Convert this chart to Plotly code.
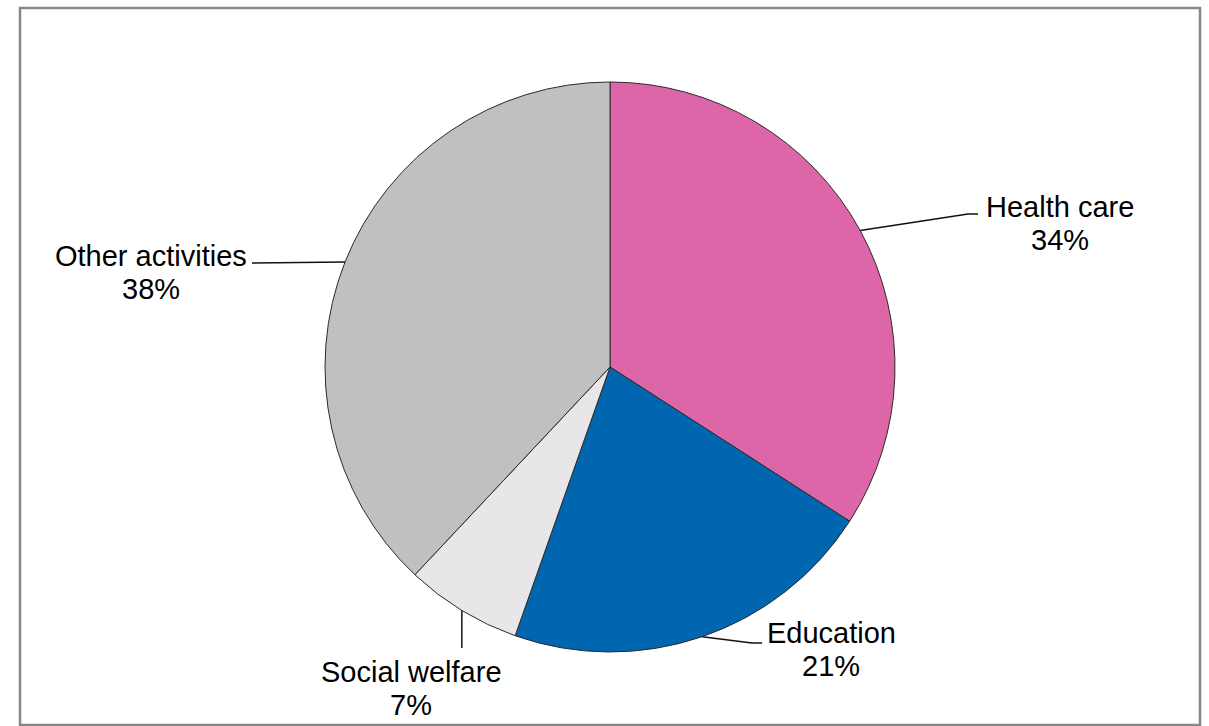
import math
import plotly.graph_objects as go

# ---- data ----
categories = ["Health care", "Education", "Social welfare", "Other activities"]
values = [34.1, 21.3, 6.6, 38.0]
colors = ["#DD66A8", "#0066B0", "#E8E6E8", "#C0C0C0"]

# ---- layout constants (pixels) ----
W, H = 1209, 726
CX, CY, R = 610, 367, 285
FONT = "Arial, 'Liberation Sans', sans-serif"
FS = 29
LINE_GAP = 33

# label centre x, first-line baseline y, leader path after the slice edge point
label_layout = {
    "Health care": dict(x=1060, base=217, path=[(968, 214), (978, 214)]),
    "Education": dict(x=831, base=643, path=[(752, 643), (762, 643)]),
    "Social welfare": dict(x=411, base=682, path=[(None, 648)]),
    "Other activities": dict(x=151, base=266, path=[(252, 263)]),
}


def px(x):
    return x / W


def py(y):
    return 1 - y / H


fig = go.Figure()
fig.add_trace(go.Pie(
    labels=categories,
    values=values,
    sort=False,
    direction="clockwise",
    rotation=0,
    marker=dict(colors=colors, line=dict(color="#2b2b2b", width=1)),
    textinfo="none",
    hoverinfo="label+percent",
    showlegend=False,
    domain=dict(x=[px(CX - R), px(CX + R)], y=[py(CY + R), py(CY - R)]),
))

annotations = []
shapes = []
total = sum(values)
cum = 0
for cat, v in zip(categories, values):
    mid = (cum + v / 2) / total * 2 * math.pi
    cum += v
    sx = CX + R * math.sin(mid)
    sy = CY - R * math.cos(mid)
    lay = label_layout[cat]
    pts = [(sx, sy)]
    for (x, y) in lay["path"]:
        pts.append((pts[-1][0] if x is None else x, y))
    for (x0, y0), (x1, y1) in zip(pts[:-1], pts[1:]):
        shapes.append(dict(type="line", xref="paper", yref="paper",
                           x0=px(x0), y0=py(y0), x1=px(x1), y1=py(y1),
                           line=dict(color="#111111", width=1.5)))
    pct = round(v / total * 100)
    for i, txt in enumerate([cat, f"{pct}%"]):
        base = lay["base"] + i * LINE_GAP
        annotations.append(dict(
            text=txt, x=px(lay["x"]), y=py(base - 0.3465 * FS),
            xref="paper", yref="paper", xanchor="center", yanchor="middle",
            showarrow=False, font=dict(family=FONT, size=FS, color="#000000"),
        ))

# outer frame
shapes.append(dict(type="rect", xref="paper", yref="paper",
                   x0=px(20), x1=px(1200), y0=py(725), y1=py(8),
                   line=dict(color="#888888", width=2.5)))

fig.update_layout(
    width=W, height=H,
    margin=dict(l=0, r=0, t=0, b=0),
    paper_bgcolor="white", plot_bgcolor="white",
    font=dict(family=FONT, size=FS, color="#000000"),
    annotations=annotations,
    shapes=shapes,
)

fig.write_html(
    "out.html",
    config={"displayModeBar": False},
    post_script="document.body.style.margin='0';document.body.style.overflow='hidden';",
)
